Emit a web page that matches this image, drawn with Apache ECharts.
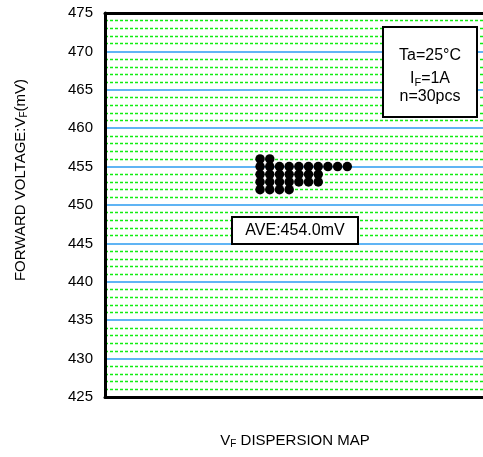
<!DOCTYPE html>
<html>
<head>
<meta charset="utf-8">
<script src="https://cdn.jsdelivr.net/npm/echarts@6/dist/echarts.min.js"></script>
<style>html,body{margin:0;padding:0;background:#fff;}#c{width:483px;height:457px;}</style>
</head>
<body>
<div id="c"></div>
<script>
var levels = [456, 455, 454, 453, 452];   // forward voltage (mV)
var counts = [2, 10, 7, 7, 4];            // number of samples at each level
var yTicks = [425, 430, 435, 440, 445, 450, 455, 460, 465, 470, 475];

var points = [];
var total = 0, sum = 0;
for (var i = 0; i < levels.length; i++) {
  for (var k = 1; k <= counts[i]; k++) points.push([k, levels[i]]);
  total += counts[i];
  sum += counts[i] * levels[i];
}
var ave = (sum / total).toFixed(1);

var FONT = '"Liberation Sans", Arial, sans-serif';
var chart = echarts.init(document.getElementById('c'));
chart.setOption({
  animation: false,
  backgroundColor: '#fff',
  grid: { left: 105, top: 13, right: 0, bottom: 60 },
  xAxis: [{
    type: 'value', min: -15, max: 24, position: 'bottom',
    axisLine: { show: true, onZero: false, lineStyle: { color: '#000', width: 3 } },
    axisTick: { show: false }, axisLabel: { show: false }, splitLine: { show: false }
  }, {
    type: 'value', min: -15, max: 24, position: 'top',
    axisLine: { show: true, onZero: false, lineStyle: { color: '#000', width: 3 } },
    axisTick: { show: false }, axisLabel: { show: false }, splitLine: { show: false }
  }],
  yAxis: {
    type: 'value', min: yTicks[0], max: yTicks[yTicks.length - 1], interval: 5,
    axisLine: { show: true, onZero: false, lineStyle: { color: '#000', width: 3 } },
    axisTick: { show: false },
    axisLabel: { color: '#000', fontSize: 15, fontFamily: FONT, margin: 12 },
    splitLine: { show: true, lineStyle: { color: '#2b9bf0', width: 1.5 } },
    minorTick: { show: false, splitNumber: 5 },
    minorSplitLine: { show: true, lineStyle: { color: '#11ee11', width: 1.4, type: [3, 2] } }
  },
  series: [{
    type: 'scatter', data: points, symbol: 'circle', symbolSize: 9.5,
    itemStyle: { color: '#000', opacity: 1 }, z: 5
  }],
  graphic: [
    {
      type: 'text', x: 21, y: 180, rotation: Math.PI / 2,
      style: {
        text: '{n|FORWARD VOLTAGE:V}{s|F}{n|(mV)}',
        align: 'center', verticalAlign: 'middle',
        rich: {
          n: { fontSize: 15, fontFamily: FONT, fill: '#000', lineHeight: 18 },
          s: { fontSize: 10, fontFamily: FONT, fill: '#000', lineHeight: 18, padding: [6, 0, 0, 0] }
        }
      }
    },
    {
      type: 'text', x: 295, y: 441,
      style: {
        text: '{n|V}{s|F}{n| DISPERSION MAP}',
        align: 'center', verticalAlign: 'middle',
        rich: {
          n: { fontSize: 15, fontFamily: FONT, fill: '#000', lineHeight: 18 },
          s: { fontSize: 10, fontFamily: FONT, fill: '#000', lineHeight: 18, padding: [6, 0, 0, 0] }
        }
      }
    },
    {
      type: 'rect', shape: { x: 383, y: 27, width: 94, height: 90 },
      style: { fill: '#fff', stroke: '#000', lineWidth: 2 }, z: 10
    },
    {
      type: 'text', x: 430, y: 56, z: 11,
      style: { text: 'Ta=25°C', align: 'center', verticalAlign: 'middle', fontSize: 16, fontFamily: FONT, fill: '#000' }
    },
    {
      type: 'text', x: 430, y: 79, z: 11,
      style: {
        text: '{n|I}{s|F}{n|=1A}', align: 'center', verticalAlign: 'middle',
        rich: {
          n: { fontSize: 16, fontFamily: FONT, fill: '#000', lineHeight: 18 },
          s: { fontSize: 11, fontFamily: FONT, fill: '#000', lineHeight: 18, padding: [7, 0, 0, 0] }
        }
      }
    },
    {
      type: 'text', x: 430, y: 97, z: 11,
      style: { text: 'n=' + total + 'pcs', align: 'center', verticalAlign: 'middle', fontSize: 16, fontFamily: FONT, fill: '#000' }
    },
    {
      type: 'rect', shape: { x: 232, y: 217, width: 126, height: 27 },
      style: { fill: '#fff', stroke: '#000', lineWidth: 2 }, z: 10
    },
    {
      type: 'text', x: 295, y: 231, z: 11,
      style: { text: 'AVE:' + ave + 'mV', align: 'center', verticalAlign: 'middle', fontSize: 16, fontFamily: FONT, fill: '#000' }
    }
  ]
});
</script>
</body>
</html>
